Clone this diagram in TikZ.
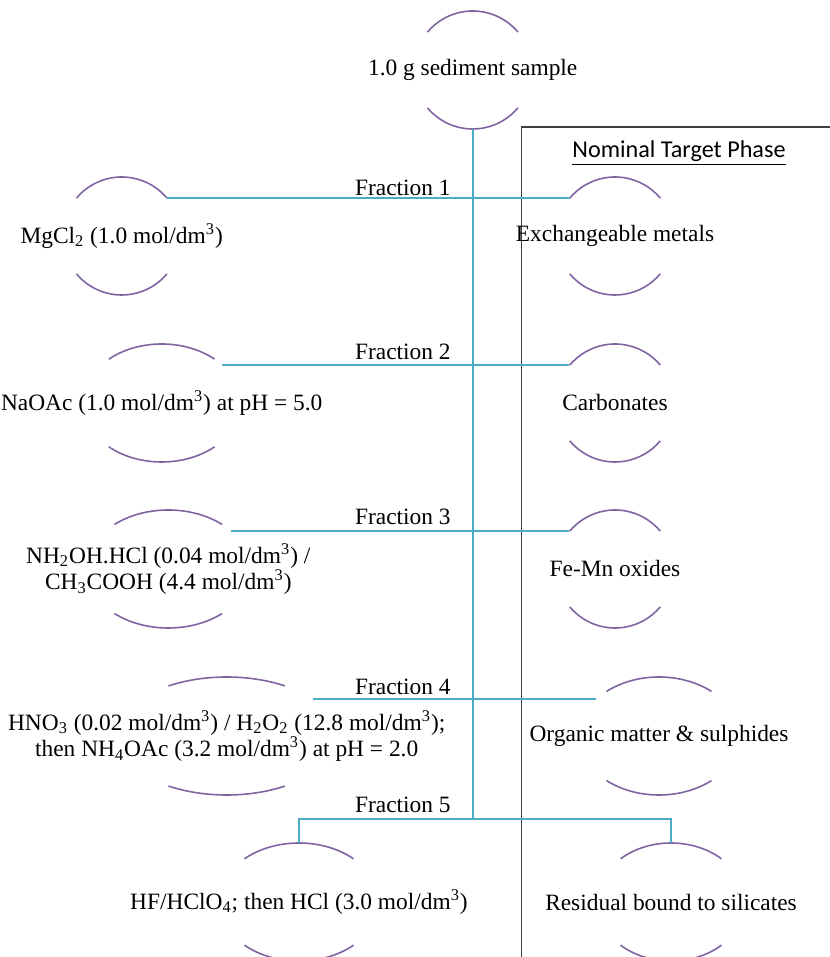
\documentclass[tikz,border=0pt]{standalone}
\usepackage{fontspec}
\setmainfont{Liberation Serif}
\newfontfamily\headfont{Carlito}
\usetikzlibrary{shapes.geometric}
\definecolor{linkblue}{HTML}{4BACC6}
\definecolor{rimpurple}{HTML}{8064A2}

\begin{document}
\begin{tikzpicture}[x=0.5pt, y=0.5pt, font=\fontsize{11.7}{11.6}\selectfont]
    \tikzset{
        ring/.style 2 args={ellipse, minimum width=#1pt, minimum height=#2pt, inner sep=0pt, outer sep=0pt},
        rim/.style={rimpurple, line width=0.8pt},
        link/.style={linkblue, line width=1pt},
        txt/.style={align=center, inner sep=0pt},
        frac/.style={anchor=base east, inner sep=0pt},
    }
    \useasboundingbox (0,0) rectangle (829,957);

    %% target phase box
    \draw[black!75, line width=0.6pt] (840,830) -- (521.5,830) -- (521.5,-10);
    \node (head) at (679,804) {\headfont\fontsize{12.1}{14}\selectfont\underline{Nominal Target Phase}};

    %% ellipses, only top and bottom are drawn
    \node[ring={59}{59}]   (s0) at (472.7,887) {};
    \node[ring={59}{59}]   (m1) at (121.7,721) {};
    \node[ring={79}{59}]   (m2) at (161.7,554) {};
    \node[ring={82}{59}]   (m3) at (168.3,388) {};
    \node[ring={110}{59}]  (m4) at (226.7,221) {};
    \node[ring={80}{59}]   (m5) at (299,55) {};
    \node[ring={59}{59}]   (x1) at (615,721) {};
    \node[ring={59}{59}]   (x2) at (615,554) {};
    \node[ring={59}{59}]   (x3) at (615,388) {};
    \node[ring={80}{59}]   (x4) at (659,221) {};
    \node[ring={74}{59}]   (x5) at (671,55) {};

    \foreach \n/\a/\b/\t in {s0/59/59/40, m1/59/59/40, m2/79/59/48, m3/82/59/49, m4/110/59/58, m5/80/59/47,
                             x1/59/59/40, x2/59/59/40, x3/59/59/40, x4/80/59/49, x5/74/59/47} {
        \draw[rim] (\n.center) ++({\a*cos(\t)},{\b*sin(\t)}) arc[start angle=\t, end angle=180-\t, x radius=\a, y radius=\b];
        \draw[rim] (\n.center) ++({-\a*cos(\t)},{-\b*sin(\t)}) arc[start angle=180+\t, end angle=360-\t, x radius=\a, y radius=\b];
    }

    %% texts
    \node[txt] (s0t) at (s0) {1.0 g sediment sample};
    \node[txt] (m1t) at (m1) {MgCl\textsubscript{2} (1.0 mol/dm\textsuperscript{3})};
    \node[txt] (m2t) at (m2) {NaOAc (1.0 mol/dm\textsuperscript{3}) at pH = 5.0};
    \node[txt] (m3t) at (m3) {NH\textsubscript{2}OH.HCl (0.04 mol/dm\textsuperscript{3}) /\\
                              CH\textsubscript{3}COOH (4.4 mol/dm\textsuperscript{3})};
    \node[txt] (m4t) at (m4) {HNO\textsubscript{3} (0.02 mol/dm\textsuperscript{3}) / H\textsubscript{2}O\textsubscript{2} (12.8 mol/dm\textsuperscript{3});\\
                              then NH\textsubscript{4}OAc (3.2 mol/dm\textsuperscript{3}) at pH = 2.0};
    \node[txt] (m5t) at (m5) {HF/HClO\textsubscript{4}; then HCl (3.0 mol/dm\textsuperscript{3})};
    \node[txt] (x1t) at (x1) {Exchangeable metals};
    \node[txt] (x2t) at (x2) {Carbonates};
    \node[txt] (x3t) at (x3) {Fe-Mn oxides};
    \node[txt] (x4t) at (x4) {Organic matter \& sulphides};
    \node[txt] (x5t) at (x5) {Residual bound to silicates};

    %% fractions
    \coordinate (j5) at (472.7,138);
    \draw[link] (s0.south) -- (j5);
    \foreach \i/\l/\r/\y in {1/40/139/761, 2/32/141/597, 3/31/141/432, 4/23/150/262} {
        \draw[link] (m\i.\l) -- (m\i.\l -| x\i.\r);
        \node[frac] (f\i) at (451,\y) {Fraction \i};
    }
    \draw[link] (m5.north) |- (j5) -| (x5.north);
    \node[frac] (f5) at (451,144) {Fraction 5};
\end{tikzpicture}
\end{document}
